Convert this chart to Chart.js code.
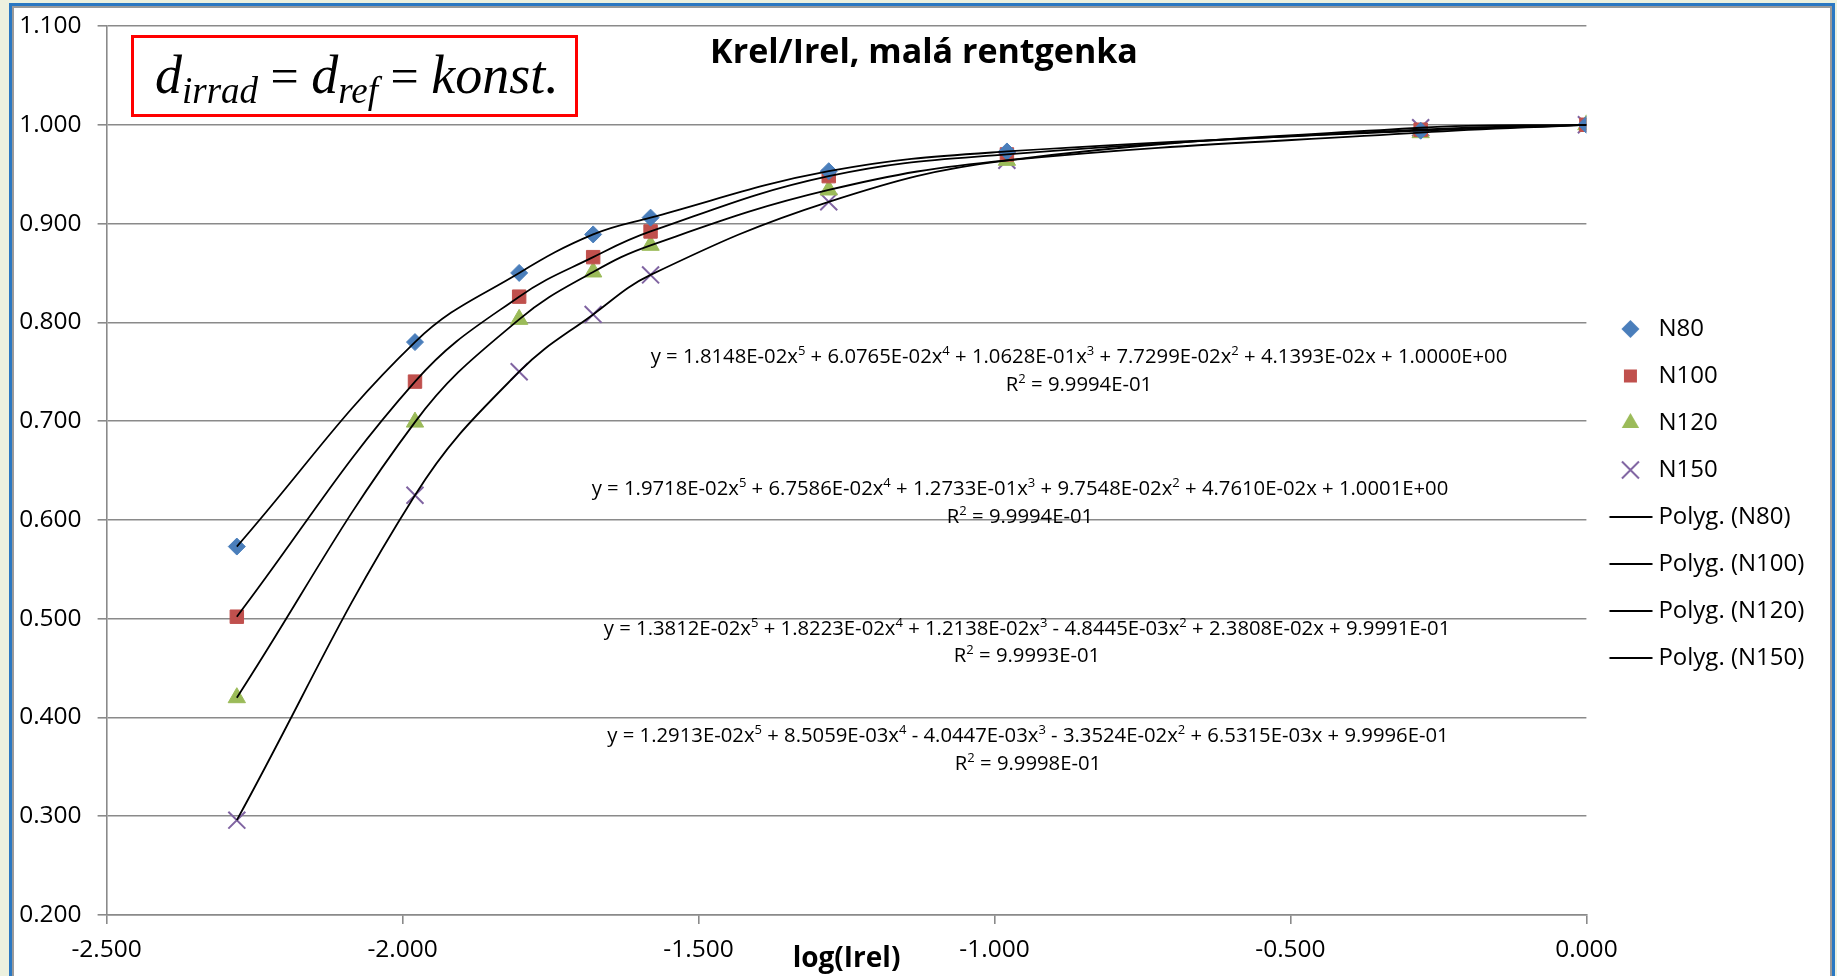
<!DOCTYPE html>
<html>
<head>
<meta charset="utf-8">
<title>Krel/Irel, malá rentgenka</title>
<script src="https://cdn.jsdelivr.net/npm/chart.js@4.4.1/dist/chart.umd.min.js"></script>
<style>
  html, body { margin: 0; padding: 0; width: 1837px; height: 976px; overflow: hidden; background: #ecf1df; }
  #frame { position: absolute; left: 9px; top: 3px; width: 1820px; height: 1000px; border: 3px solid #2a78c2; border-bottom: none; }
  #inner { width: 1816px; height: 990px; border: 2px solid #9a9a9a; background: #fff; }
  #wrap { position: relative; width: 1816px; height: 968px; }
</style>
</head>
<body>
<div id="frame"><div id="inner"><div id="wrap"><canvas id="chart"></canvas></div></div></div>
<script>
// ---- data
const xVals = [-2.280, -1.979, -1.803, -1.678, -1.581, -1.280, -0.979, -0.280, 0.000];
const n80  = [0.573, 0.780, 0.850, 0.889, 0.906, 0.953, 0.973, 0.994, 1.000];
const n100 = [0.502, 0.740, 0.826, 0.866, 0.892, 0.948, 0.970, 0.995, 1.000];
const n120 = [0.420, 0.699, 0.803, 0.851, 0.878, 0.934, 0.964, 0.992, 1.000];
const n150 = [0.296, 0.625, 0.750, 0.808, 0.848, 0.922, 0.964, 0.997, 1.000];
const seriesNames = ['N80', 'N100', 'N120', 'N150'];
const trendNames = ['Polyg. (N80)', 'Polyg. (N100)', 'Polyg. (N120)', 'Polyg. (N150)'];
const xTicks = [-2.5, -2.0, -1.5, -1.0, -0.5, 0.0];
const xTickLabels = ['-2.500', '-2.000', '-1.500', '-1.000', '-0.500', '0.000'];
const yTicks = [0.2, 0.3, 0.4, 0.5, 0.6, 0.7, 0.8, 0.9, 1.0, 1.1];
const yTickLabels = ['0.200', '0.300', '0.400', '0.500', '0.600', '0.700', '0.800', '0.900', '1.000', '1.100'];
const chartTitle = 'Krel/Irel, malá rentgenka';
const xTitle = 'log(Irel)';
const eqLines = [
  'y = 1.8148E-02x^5 + 6.0765E-02x^4 + 1.0628E-01x^3 + 7.7299E-02x^2 + 4.1393E-02x + 1.0000E+00',
  'y = 1.9718E-02x^5 + 6.7586E-02x^4 + 1.2733E-01x^3 + 9.7548E-02x^2 + 4.7610E-02x + 1.0001E+00',
  'y = 1.3812E-02x^5 + 1.8223E-02x^4 + 1.2138E-02x^3 - 4.8445E-03x^2 + 2.3808E-02x + 9.9991E-01',
  'y = 1.2913E-02x^5 + 8.5059E-03x^4 - 4.0447E-03x^3 - 3.3524E-02x^2 + 6.5315E-03x + 9.9996E-01'
];
const r2Lines = ['R^2 = 9.9994E-01', 'R^2 = 9.9994E-01', 'R^2 = 9.9993E-01', 'R^2 = 9.9998E-01'];

// ---- styles
const colors = ['#4a7ebb', '#c0504d', '#9bbb59', '#8064a2'];
const shapes = ['rectRot', 'rect', 'triangle', 'crossRot'];
const radii = [8.5, 9.5, 10, 12];
const eqPos = [[1065, 349, 377], [1006, 481, 509], [1013, 621, 648], [1014, 728, 756]];
const FONT = '"Open Sans", "DejaVu Sans", sans-serif';

const yData = [n80, n100, n120, n150];
const pts = arr => xVals.map((x, i) => ({x: x, y: arr[i]}));

let datasets = [];
yData.forEach((arr, i) => {
  datasets.push({
    label: seriesNames[i],
    data: pts(arr),
    showLine: false,
    pointStyle: shapes[i],
    pointRadius: radii[i],
    pointBackgroundColor: colors[i],
    pointBorderColor: colors[i],
    pointBorderWidth: i == 3 ? 2 : 1,
    order: 1
  });
});
yData.forEach((arr, i) => {
  datasets.push({
    label: trendNames[i],
    data: pts(arr),
    showLine: true,
    borderColor: '#000',
    borderWidth: 1.8,
    pointRadius: 0,
    tension: 0.4,
    order: 0
  });
});

// legend icons (marker or short line), all the same size
function legendIcon(i) {
  const c = document.createElement('canvas');
  c.width = 50; c.height = 26;
  const g = c.getContext('2d');
  const x = 27.5, y = 13;
  if (i >= 4) {
    g.strokeStyle = '#000'; g.lineWidth = 2;
    g.beginPath(); g.moveTo(6.5, y); g.lineTo(49.5, y); g.stroke();
    return c;
  }
  g.fillStyle = colors[i]; g.strokeStyle = colors[i];
  g.beginPath();
  if (i == 0) {
    g.moveTo(x, y - 9); g.lineTo(x + 9, y); g.lineTo(x, y + 9); g.lineTo(x - 9, y); g.closePath(); g.fill();
  } else if (i == 1) {
    g.fillRect(x - 6.5, y - 6.5, 13, 13);
  } else if (i == 2) {
    g.moveTo(x, y - 10); g.lineTo(x + 8.7, y + 5); g.lineTo(x - 8.7, y + 5); g.closePath(); g.fill();
  } else {
    g.lineWidth = 2;
    g.moveTo(x - 8.5, y - 8.5); g.lineTo(x + 8.5, y + 8.5);
    g.moveTo(x + 8.5, y - 8.5); g.lineTo(x - 8.5, y + 8.5); g.stroke();
  }
  return c;
}
const legendIcons = datasets.map((d, i) => legendIcon(i));

// text with ^n superscripts, centred on cx
function drawSup(ctx, text, cx, cy, size) {
  const parts = text.split(/\^(\d)/);
  const big = size + 'px ' + FONT, small = Math.round(size * 0.64) + 'px ' + FONT;
  let w = 0;
  parts.forEach((p, k) => { ctx.font = k % 2 ? small : big; w += ctx.measureText(p).width; });
  let x = cx - w / 2;
  ctx.textAlign = 'left';
  ctx.textBaseline = 'middle';
  parts.forEach((p, k) => {
    ctx.font = k % 2 ? small : big;
    ctx.fillText(p, x, k % 2 ? cy - size * 0.3 : cy);
    x += ctx.measureText(p).width;
  });
}

const extras = {
  id: 'extras',
  afterDraw(chart) {
    const ctx = chart.ctx;
    ctx.save();
    ctx.fillStyle = '#000';
    // title inside the plot
    ctx.font = 'bold 34px ' + FONT;
    ctx.textAlign = 'center';
    ctx.textBaseline = 'middle';
    ctx.fillText(chartTitle, 910, 45);

    // red box with the condition
    ctx.strokeStyle = '#ff0000';
    ctx.lineWidth = 3;
    ctx.strokeRect(118.5, 28.5, 444, 79);
    const serif = '"Liberation Serif", "DejaVu Serif", serif';
    const formula = [
      ['d', 'italic 54px ' + serif, 0], ['irrad', 'italic 37px ' + serif, 10],
      [' = ', '50px ' + serif, 0],
      ['d', 'italic 54px ' + serif, 0], ['ref', 'italic 37px ' + serif, 10],
      [' = ', '50px ' + serif, 0],
      ['konst.', 'italic 54px ' + serif, 0]
    ];
    ctx.textAlign = 'left';
    ctx.textBaseline = 'alphabetic';
    let fx = 141;
    formula.forEach(f => {
      ctx.font = f[1];
      ctx.fillText(f[0], fx, 85 + f[2]);
      fx += ctx.measureText(f[0]).width;
    });

    // trendline equations
    eqPos.forEach((p, i) => {
      drawSup(ctx, eqLines[i], p[0], p[1], 20.3);
      drawSup(ctx, r2Lines[i], p[0], p[2], 20.3);
    });
    ctx.restore();
  }
};

Chart.defaults.font.family = FONT;
Chart.defaults.color = '#000';

new Chart('chart', {
  type: 'scatter',
  data: { datasets: datasets },
  options: {
    responsive: true,
    maintainAspectRatio: false,
    animation: false,
    layout: { padding: { top: 18, right: 20, bottom: 15, left: 0 } },
    plugins: {
      tooltip: { enabled: false },
      legend: {
        position: 'right',
        align: 'center',
        maxWidth: 223.6,
        labels: {
          usePointStyle: true,
          pointStyleWidth: 37,
          padding: 23,
          color: '#000',
          font: { size: 24 },
          generateLabels: chart => chart.data.datasets.map((ds, i) => ({
            text: ds.label,
            pointStyle: legendIcons[i],
            datasetIndex: i,
            hidden: false,
            fontColor: '#000',
            lineWidth: 0,
            strokeStyle: 'rgba(0,0,0,0)',
            fillStyle: 'rgba(0,0,0,0)'
          }))
        }
      }
    },
    scales: {
      x: {
        type: 'linear',
        min: -2.5,
        max: 0,
        afterBuildTicks: s => { s.ticks = xTicks.map(v => ({value: v})); },
        afterFit: s => { s.height = 46; s.paddingLeft = 0; s.paddingRight = 0; },
        ticks: {
          autoSkip: false,
          maxRotation: 0,
          padding: 11,
          font: { size: 24.5 },
          callback: (v, i) => xTickLabels[i]
        },
        grid: { drawOnChartArea: false, drawTicks: true, tickLength: 9, color: '#8a8a8a', lineWidth: 1.6 },
        border: { display: true, color: '#8a8a8a', width: 1.6 },
        title: {
          display: true,
          text: xTitle,
          font: { size: 28, weight: 'bold' },
          padding: { top: 0, bottom: -15 }
        }
      },
      y: {
        type: 'linear',
        min: 0.2,
        max: 1.1,
        afterBuildTicks: s => { s.ticks = yTicks.map(v => ({value: v})); },
        afterFit: s => { s.width = 92.6; s.paddingTop = 0; s.paddingBottom = 0; },
        ticks: {
          padding: 16,
          font: { size: 24.5 },
          callback: (v, i) => yTickLabels[i]
        },
        grid: { drawTicks: true, tickLength: 9, color: '#8a8a8a', lineWidth: 1.6 },
        border: { display: true, color: '#8a8a8a', width: 1.6 }
      }
    }
  },
  plugins: [extras]
});
</script>
</body>
</html>
